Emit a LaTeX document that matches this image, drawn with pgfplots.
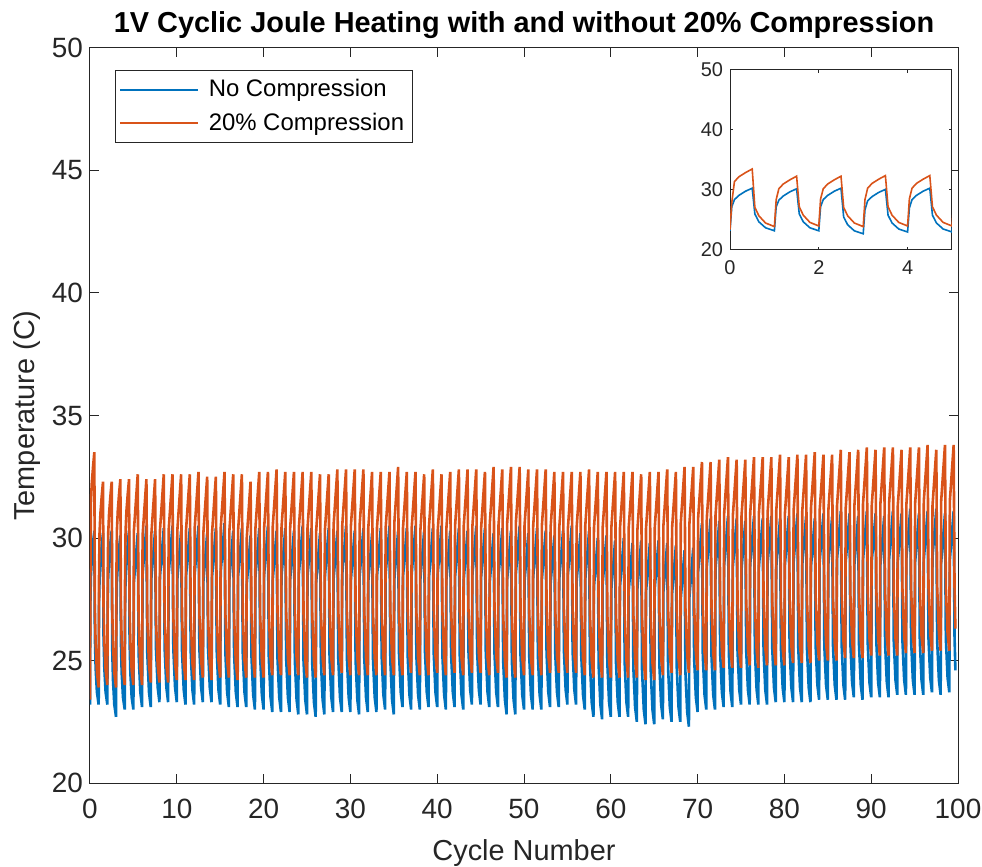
\documentclass[border=0pt]{standalone}
\usepackage{pgfplots}
\pgfplotsset{compat=1.18}
\usepackage{pgfplotstable}
\usepackage{fontspec}
\setmainfont{Liberation Sans}
\definecolor{mblue}{rgb}{0,0.447,0.741}
\definecolor{morange}{rgb}{0.85,0.325,0.098}
\definecolor{axgray}{rgb}{0.15,0.15,0.15}

\pgfplotstableread[row sep=\\]{
x y\\
0 23.2\\ 0.04 27.2\\ 0.1 28.4\\ 0.2 29.1\\ 0.35 29.8\\ 0.5 30.3\\ 0.56 26.0\\ 0.65 24.7\\ 0.8 23.7\\
1 23.2\\ 1.04 27.2\\ 1.1 28.3\\ 1.2 29.0\\ 1.35 29.7\\ 1.5 30.2\\ 1.56 26.0\\ 1.65 24.7\\ 1.8 23.7\\
2 23.2\\ 2.04 27.2\\ 2.1 28.4\\ 2.2 29.1\\ 2.35 29.8\\ 2.5 30.3\\ 2.56 25.5\\ 2.65 24.2\\ 2.8 23.2\\
3 22.7\\ 3.04 26.7\\ 3.1 28.2\\ 3.2 28.9\\ 3.35 29.6\\ 3.5 30.1\\ 3.56 25.8\\ 3.65 24.5\\ 3.8 23.5\\
4 23.0\\ 4.04 27.0\\ 4.1 28.4\\ 4.2 29.1\\ 4.35 29.8\\ 4.5 30.3\\ 4.56 25.8\\ 4.65 24.5\\ 4.8 23.5\\
5 23.0\\ 5.06 28.2\\ 5.5 30.2\\ 5.6 25.3\\ 5.8 23.7\\
6 23.1\\ 6.06 28.5\\ 6.5 30.5\\ 6.6 25.3\\ 6.8 23.7\\
7 23.1\\ 7.06 28.3\\ 7.5 30.3\\ 7.6 25.5\\ 7.8 23.9\\
8 23.3\\ 8.06 28.4\\ 8.5 30.4\\ 8.6 25.5\\ 8.8 23.9\\
9 23.3\\ 9.06 28.5\\ 9.5 30.5\\ 9.6 25.5\\ 9.8 23.9\\
10 23.3\\ 10.06 28.3\\ 10.5 30.3\\ 10.6 25.4\\ 10.8 23.8\\
11 23.2\\ 11.06 28.4\\ 11.5 30.4\\ 11.6 25.4\\ 11.8 23.8\\
12 23.2\\ 12.06 28.5\\ 12.5 30.5\\ 12.6 25.5\\ 12.8 23.9\\
13 23.3\\ 13.06 28.2\\ 13.5 30.2\\ 13.6 25.5\\ 13.8 23.9\\
14 23.3\\ 14.06 28.4\\ 14.5 30.4\\ 14.6 25.4\\ 14.8 23.8\\
15 23.2\\ 15.06 28.6\\ 15.5 30.6\\ 15.6 25.3\\ 15.8 23.7\\
16 23.1\\ 16.06 28.3\\ 16.5 30.3\\ 16.6 25.3\\ 16.8 23.7\\
17 23.1\\ 17.06 28.4\\ 17.5 30.4\\ 17.6 25.3\\ 17.8 23.7\\
18 23.1\\ 18.06 28.1\\ 18.5 30.1\\ 18.6 25.2\\ 18.8 23.6\\
19 23.0\\ 19.06 28.4\\ 19.5 30.4\\ 19.6 25.2\\ 19.8 23.6\\
20 23.0\\ 20.06 28.5\\ 20.5 30.5\\ 20.6 25.1\\ 20.8 23.5\\
21 22.9\\ 21.06 28.3\\ 21.5 30.3\\ 21.6 25.1\\ 21.8 23.5\\
22 22.9\\ 22.06 28.4\\ 22.5 30.4\\ 22.6 25.1\\ 22.8 23.5\\
23 22.9\\ 23.06 28.3\\ 23.5 30.3\\ 23.6 25.0\\ 23.8 23.4\\
24 22.8\\ 24.06 28.5\\ 24.5 30.5\\ 24.6 25.0\\ 24.8 23.4\\
25 22.8\\ 25.06 28.4\\ 25.5 30.4\\ 25.6 24.9\\ 25.8 23.3\\
26 22.7\\ 26.06 28.2\\ 26.5 30.2\\ 26.6 25.0\\ 26.8 23.4\\
27 22.8\\ 27.06 28.4\\ 27.5 30.4\\ 27.6 25.1\\ 27.8 23.5\\
28 22.9\\ 28.06 28.3\\ 28.5 30.3\\ 28.6 25.1\\ 28.8 23.5\\
29 22.9\\ 29.06 28.5\\ 29.5 30.5\\ 29.6 25.1\\ 29.8 23.5\\
30 22.9\\ 30.06 28.3\\ 30.5 30.3\\ 30.6 25.0\\ 30.8 23.4\\
31 22.8\\ 31.06 28.4\\ 31.5 30.4\\ 31.6 25.1\\ 31.8 23.5\\
32 22.9\\ 32.06 28.2\\ 32.5 30.2\\ 32.6 25.1\\ 32.8 23.5\\
33 22.9\\ 33.06 28.4\\ 33.5 30.4\\ 33.6 25.2\\ 33.8 23.6\\
34 23.0\\ 34.06 28.5\\ 34.5 30.5\\ 34.6 25.0\\ 34.8 23.4\\
35 22.8\\ 35.06 28.3\\ 35.5 30.3\\ 35.6 25.3\\ 35.8 23.7\\
36 23.1\\ 36.06 28.4\\ 36.5 30.4\\ 36.6 25.2\\ 36.8 23.6\\
37 23.0\\ 37.06 28.5\\ 37.5 30.5\\ 37.6 25.2\\ 37.8 23.6\\
38 23.0\\ 38.06 28.3\\ 38.5 30.3\\ 38.6 25.3\\ 38.8 23.7\\
39 23.1\\ 39.06 28.4\\ 39.5 30.4\\ 39.6 25.3\\ 39.8 23.7\\
40 23.1\\ 40.06 28.5\\ 40.5 30.5\\ 40.6 25.2\\ 40.8 23.6\\
41 23.0\\ 41.06 28.3\\ 41.5 30.3\\ 41.6 25.3\\ 41.8 23.7\\
42 23.1\\ 42.06 28.4\\ 42.5 30.4\\ 42.6 25.2\\ 42.8 23.6\\
43 23.0\\ 43.06 28.3\\ 43.5 30.3\\ 43.6 25.4\\ 43.8 23.8\\
44 23.2\\ 44.06 28.5\\ 44.5 30.5\\ 44.6 25.4\\ 44.8 23.8\\
45 23.2\\ 45.06 28.4\\ 45.5 30.4\\ 45.6 25.3\\ 45.8 23.7\\
46 23.1\\ 46.06 28.2\\ 46.5 30.2\\ 46.6 25.3\\ 46.8 23.7\\
47 23.1\\ 47.06 28.4\\ 47.5 30.4\\ 47.6 25.0\\ 47.8 23.4\\
48 22.8\\ 48.06 28.3\\ 48.5 30.3\\ 48.6 25.0\\ 48.8 23.4\\
49 22.8\\ 49.06 28.5\\ 49.5 30.5\\ 49.6 25.2\\ 49.8 23.6\\
50 23.0\\ 50.06 28.2\\ 50.5 30.2\\ 50.6 25.2\\ 50.8 23.6\\
51 23.0\\ 51.06 28.4\\ 51.5 30.4\\ 51.6 25.2\\ 51.8 23.6\\
52 23.0\\ 52.06 28.3\\ 52.5 30.3\\ 52.6 25.3\\ 52.8 23.7\\
53 23.1\\ 53.06 28.1\\ 53.5 30.1\\ 53.6 25.3\\ 53.8 23.7\\
54 23.1\\ 54.06 28.3\\ 54.5 30.3\\ 54.6 25.4\\ 54.8 23.8\\
55 23.2\\ 55.06 28.5\\ 55.5 30.5\\ 55.6 25.4\\ 55.8 23.8\\
56 23.2\\ 56.06 28.2\\ 56.5 30.2\\ 56.6 25.2\\ 56.8 23.6\\
57 23.0\\ 57.06 28.3\\ 57.5 30.3\\ 57.6 24.9\\ 57.8 23.3\\
58 22.7\\ 58.06 28.0\\ 58.5 30.0\\ 58.6 24.8\\ 58.8 23.2\\
59 22.6\\ 59.06 28.1\\ 59.5 30.1\\ 59.6 24.9\\ 59.8 23.3\\
60 22.7\\ 60.06 27.9\\ 60.5 29.9\\ 60.6 24.9\\ 60.8 23.3\\
61 22.7\\ 61.06 28.0\\ 61.5 30.0\\ 61.6 24.9\\ 61.8 23.3\\
62 22.7\\ 62.06 27.8\\ 62.5 29.8\\ 62.6 24.7\\ 62.8 23.1\\
63 22.5\\ 63.06 27.9\\ 63.5 29.9\\ 63.6 24.6\\ 63.8 23.0\\
64 22.4\\ 64.06 27.8\\ 64.5 29.8\\ 64.6 24.6\\ 64.8 23.0\\
65 22.4\\ 65.06 27.9\\ 65.5 29.9\\ 65.6 24.8\\ 65.8 23.2\\
66 22.6\\ 66.06 27.8\\ 66.5 29.8\\ 66.6 24.7\\ 66.8 23.1\\
67 22.5\\ 67.06 27.7\\ 67.5 29.7\\ 67.6 24.7\\ 67.8 23.1\\
68 22.5\\ 68.06 27.5\\ 68.5 29.5\\ 68.6 24.5\\ 68.8 22.9\\
69 22.3\\ 69.06 27.6\\ 69.5 29.6\\ 69.6 25.1\\ 69.8 23.5\\
70 22.9\\ 70.06 28.6\\ 70.5 30.6\\ 70.6 25.2\\ 70.8 23.6\\
71 23.0\\ 71.06 28.8\\ 71.5 30.8\\ 71.6 25.2\\ 71.8 23.6\\
72 23.0\\ 72.06 28.7\\ 72.5 30.7\\ 72.6 25.3\\ 72.8 23.7\\
73 23.1\\ 73.06 28.9\\ 73.5 30.9\\ 73.6 25.3\\ 73.8 23.7\\
74 23.1\\ 74.06 28.8\\ 74.5 30.8\\ 74.6 25.4\\ 74.8 23.8\\
75 23.2\\ 75.06 28.7\\ 75.5 30.7\\ 75.6 25.4\\ 75.8 23.8\\
76 23.2\\ 76.06 28.9\\ 76.5 30.9\\ 76.6 25.4\\ 76.8 23.8\\
77 23.2\\ 77.06 28.8\\ 77.5 30.8\\ 77.6 25.4\\ 77.8 23.8\\
78 23.2\\ 78.06 28.9\\ 78.5 30.9\\ 78.6 25.5\\ 78.8 23.9\\
79 23.3\\ 79.06 28.8\\ 79.5 30.8\\ 79.6 25.5\\ 79.8 23.9\\
80 23.3\\ 80.06 28.9\\ 80.5 30.9\\ 80.6 25.5\\ 80.8 23.9\\
81 23.3\\ 81.06 29.0\\ 81.5 31.0\\ 81.6 25.5\\ 81.8 23.9\\
82 23.3\\ 82.06 28.9\\ 82.5 30.9\\ 82.6 25.5\\ 82.8 23.9\\
83 23.3\\ 83.06 28.8\\ 83.5 30.8\\ 83.6 25.6\\ 83.8 24.0\\
84 23.4\\ 84.06 29.0\\ 84.5 31.0\\ 84.6 25.6\\ 84.8 24.0\\
85 23.4\\ 85.06 28.9\\ 85.5 30.9\\ 85.6 25.6\\ 85.8 24.0\\
86 23.4\\ 86.06 29.1\\ 86.5 31.1\\ 86.6 25.6\\ 86.8 24.0\\
87 23.4\\ 87.06 29.0\\ 87.5 31.0\\ 87.6 25.7\\ 87.8 24.1\\
88 23.5\\ 88.06 28.9\\ 88.5 30.9\\ 88.6 25.6\\ 88.8 24.0\\
89 23.4\\ 89.06 29.1\\ 89.5 31.1\\ 89.6 25.7\\ 89.8 24.1\\
90 23.5\\ 90.06 29.0\\ 90.5 31.0\\ 90.6 25.7\\ 90.8 24.1\\
91 23.5\\ 91.06 28.9\\ 91.5 30.9\\ 91.6 25.7\\ 91.8 24.1\\
92 23.5\\ 92.06 29.1\\ 92.5 31.1\\ 92.6 25.8\\ 92.8 24.2\\
93 23.6\\ 93.06 29.0\\ 93.5 31.0\\ 93.6 25.8\\ 93.8 24.2\\
94 23.6\\ 94.06 29.2\\ 94.5 31.2\\ 94.6 25.8\\ 94.8 24.2\\
95 23.6\\ 95.06 29.0\\ 95.5 31.0\\ 95.6 25.8\\ 95.8 24.2\\
96 23.6\\ 96.06 29.1\\ 96.5 31.1\\ 96.6 25.9\\ 96.8 24.3\\
97 23.7\\ 97.06 29.2\\ 97.5 31.2\\ 97.6 25.8\\ 97.8 24.2\\
98 23.6\\ 98.06 29.0\\ 98.5 31.0\\ 98.6 25.9\\ 98.8 24.3\\
99 23.7\\ 99.06 29.1\\ 99.5 31.1\\ 99.6 26.0\\ 99.7 24.6\\
}\bluetab

\pgfplotstableread[row sep=\\]{
x y\\
0 23.4\\ 0.04 27.9\\ 0.1 31.4\\ 0.2 32.2\\ 0.35 32.9\\ 0.5 33.5\\ 0.56 27.1\\ 0.65 25.7\\ 0.8 24.5\\
1 23.9\\ 1.04 28.4\\ 1.1 30.2\\ 1.2 31.0\\ 1.35 31.7\\ 1.5 32.3\\ 1.56 27.2\\ 1.65 25.8\\ 1.8 24.6\\
2 24.0\\ 2.04 28.5\\ 2.1 30.2\\ 2.2 31.0\\ 2.35 31.7\\ 2.5 32.3\\ 2.56 27.1\\ 2.65 25.7\\ 2.8 24.5\\
3 23.9\\ 3.04 28.4\\ 3.1 30.3\\ 3.2 31.1\\ 3.35 31.8\\ 3.5 32.4\\ 3.56 27.2\\ 3.65 25.8\\ 3.8 24.6\\
4 24.0\\ 4.04 28.5\\ 4.1 30.3\\ 4.2 31.1\\ 4.35 31.8\\ 4.5 32.4\\ 4.56 27.2\\ 4.65 25.8\\ 4.8 24.6\\
5 24.0\\ 5.06 30.3\\ 5.5 32.6\\ 5.6 26.6\\ 5.8 24.7\\
6 24.0\\ 6.06 30.1\\ 6.5 32.4\\ 6.6 26.7\\ 6.8 24.8\\
7 24.1\\ 7.06 30.1\\ 7.5 32.4\\ 7.6 26.7\\ 7.8 24.8\\
8 24.1\\ 8.06 30.3\\ 8.5 32.6\\ 8.6 26.7\\ 8.8 24.8\\
9 24.1\\ 9.06 30.3\\ 9.5 32.6\\ 9.6 26.8\\ 9.8 24.9\\
10 24.2\\ 10.06 30.3\\ 10.5 32.6\\ 10.6 26.8\\ 10.8 24.9\\
11 24.2\\ 11.06 30.3\\ 11.5 32.6\\ 11.6 26.8\\ 11.8 24.9\\
12 24.2\\ 12.06 30.4\\ 12.5 32.7\\ 12.6 26.9\\ 12.8 25.0\\
13 24.3\\ 13.06 30.2\\ 13.5 32.5\\ 13.6 26.8\\ 13.8 24.9\\
14 24.2\\ 14.06 30.2\\ 14.5 32.5\\ 14.6 26.9\\ 14.8 25.0\\
15 24.3\\ 15.06 30.4\\ 15.5 32.7\\ 15.6 26.9\\ 15.8 25.0\\
16 24.3\\ 16.06 30.3\\ 16.5 32.6\\ 16.6 26.8\\ 16.8 24.9\\
17 24.2\\ 17.06 30.3\\ 17.5 32.6\\ 17.6 26.9\\ 17.8 25.0\\
18 24.3\\ 18.06 30.0\\ 18.5 32.3\\ 18.6 26.9\\ 18.8 25.0\\
19 24.3\\ 19.06 30.4\\ 19.5 32.7\\ 19.6 26.9\\ 19.8 25.0\\
20 24.3\\ 20.06 30.4\\ 20.5 32.7\\ 20.6 27.0\\ 20.8 25.1\\
21 24.4\\ 21.06 30.5\\ 21.5 32.8\\ 21.6 27.0\\ 21.8 25.1\\
22 24.4\\ 22.06 30.4\\ 22.5 32.7\\ 22.6 27.0\\ 22.8 25.1\\
23 24.4\\ 23.06 30.4\\ 23.5 32.7\\ 23.6 27.0\\ 23.8 25.1\\
24 24.4\\ 24.06 30.4\\ 24.5 32.7\\ 24.6 26.9\\ 24.8 25.0\\
25 24.3\\ 25.06 30.4\\ 25.5 32.7\\ 25.6 26.9\\ 25.8 25.0\\
26 24.3\\ 26.06 30.3\\ 26.5 32.6\\ 26.6 27.0\\ 26.8 25.1\\
27 24.4\\ 27.06 30.3\\ 27.5 32.6\\ 27.6 27.0\\ 27.8 25.1\\
28 24.4\\ 28.06 30.5\\ 28.5 32.8\\ 28.6 27.1\\ 28.8 25.2\\
29 24.5\\ 29.06 30.5\\ 29.5 32.8\\ 29.6 27.0\\ 29.8 25.1\\
30 24.4\\ 30.06 30.5\\ 30.5 32.8\\ 30.6 27.0\\ 30.8 25.1\\
31 24.4\\ 31.06 30.5\\ 31.5 32.8\\ 31.6 27.0\\ 31.8 25.1\\
32 24.4\\ 32.06 30.4\\ 32.5 32.7\\ 32.6 27.0\\ 32.8 25.1\\
33 24.4\\ 33.06 30.4\\ 33.5 32.7\\ 33.6 27.0\\ 33.8 25.1\\
34 24.4\\ 34.06 30.4\\ 34.5 32.7\\ 34.6 27.0\\ 34.8 25.1\\
35 24.4\\ 35.06 30.6\\ 35.5 32.9\\ 35.6 27.0\\ 35.8 25.1\\
36 24.4\\ 36.06 30.4\\ 36.5 32.7\\ 36.6 27.1\\ 36.8 25.2\\
37 24.5\\ 37.06 30.4\\ 37.5 32.7\\ 37.6 27.0\\ 37.8 25.1\\
38 24.4\\ 38.06 30.3\\ 38.5 32.6\\ 38.6 27.0\\ 38.8 25.1\\
39 24.4\\ 39.06 30.5\\ 39.5 32.8\\ 39.6 27.1\\ 39.8 25.2\\
40 24.5\\ 40.06 30.3\\ 40.5 32.6\\ 40.6 27.0\\ 40.8 25.1\\
41 24.4\\ 41.06 30.4\\ 41.5 32.7\\ 41.6 27.1\\ 41.8 25.2\\
42 24.5\\ 42.06 30.5\\ 42.5 32.8\\ 42.6 27.0\\ 42.8 25.1\\
43 24.4\\ 43.06 30.5\\ 43.5 32.8\\ 43.6 27.1\\ 43.8 25.2\\
44 24.5\\ 44.06 30.5\\ 44.5 32.8\\ 44.6 27.1\\ 44.8 25.2\\
45 24.5\\ 45.06 30.4\\ 45.5 32.7\\ 45.6 27.0\\ 45.8 25.1\\
46 24.4\\ 46.06 30.6\\ 46.5 32.9\\ 46.6 27.1\\ 46.8 25.2\\
47 24.5\\ 47.06 30.5\\ 47.5 32.8\\ 47.6 26.9\\ 47.8 25.0\\
48 24.3\\ 48.06 30.6\\ 48.5 32.9\\ 48.6 26.9\\ 48.8 25.0\\
49 24.3\\ 49.06 30.6\\ 49.5 32.9\\ 49.6 27.0\\ 49.8 25.1\\
50 24.4\\ 50.06 30.5\\ 50.5 32.8\\ 50.6 27.0\\ 50.8 25.1\\
51 24.4\\ 51.06 30.5\\ 51.5 32.8\\ 51.6 27.0\\ 51.8 25.1\\
52 24.4\\ 52.06 30.5\\ 52.5 32.8\\ 52.6 27.1\\ 52.8 25.2\\
53 24.5\\ 53.06 30.4\\ 53.5 32.7\\ 53.6 27.1\\ 53.8 25.2\\
54 24.5\\ 54.06 30.4\\ 54.5 32.7\\ 54.6 27.1\\ 54.8 25.2\\
55 24.5\\ 55.06 30.4\\ 55.5 32.7\\ 55.6 27.1\\ 55.8 25.2\\
56 24.5\\ 56.06 30.4\\ 56.5 32.7\\ 56.6 27.0\\ 56.8 25.1\\
57 24.4\\ 57.06 30.5\\ 57.5 32.8\\ 57.6 26.9\\ 57.8 25.0\\
58 24.3\\ 58.06 30.4\\ 58.5 32.7\\ 58.6 26.9\\ 58.8 25.0\\
59 24.3\\ 59.06 30.4\\ 59.5 32.7\\ 59.6 26.9\\ 59.8 25.0\\
60 24.3\\ 60.06 30.4\\ 60.5 32.7\\ 60.6 26.9\\ 60.8 25.0\\
61 24.3\\ 61.06 30.4\\ 61.5 32.7\\ 61.6 26.9\\ 61.8 25.0\\
62 24.3\\ 62.06 30.4\\ 62.5 32.7\\ 62.6 26.9\\ 62.8 25.0\\
63 24.3\\ 63.06 30.3\\ 63.5 32.6\\ 63.6 26.8\\ 63.8 24.9\\
64 24.2\\ 64.06 30.4\\ 64.5 32.7\\ 64.6 26.8\\ 64.8 24.9\\
65 24.2\\ 65.06 30.4\\ 65.5 32.7\\ 65.6 27.0\\ 65.8 25.1\\
66 24.4\\ 66.06 30.5\\ 66.5 32.8\\ 66.6 27.1\\ 66.8 25.2\\
67 24.5\\ 67.06 30.4\\ 67.5 32.7\\ 67.6 27.0\\ 67.8 25.1\\
68 24.4\\ 68.06 30.6\\ 68.5 32.9\\ 68.6 27.1\\ 68.8 25.2\\
69 24.5\\ 69.06 30.6\\ 69.5 32.9\\ 69.6 27.2\\ 69.8 25.3\\
70 24.6\\ 70.06 30.8\\ 70.5 33.1\\ 70.6 27.2\\ 70.8 25.3\\
71 24.6\\ 71.06 30.8\\ 71.5 33.1\\ 71.6 27.2\\ 71.8 25.3\\
72 24.6\\ 72.06 30.9\\ 72.5 33.2\\ 72.6 27.3\\ 72.8 25.4\\
73 24.7\\ 73.06 31.0\\ 73.5 33.3\\ 73.6 27.3\\ 73.8 25.4\\
74 24.7\\ 74.06 30.9\\ 74.5 33.2\\ 74.6 27.3\\ 74.8 25.4\\
75 24.7\\ 75.06 30.9\\ 75.5 33.2\\ 75.6 27.4\\ 75.8 25.5\\
76 24.8\\ 76.06 31.0\\ 76.5 33.3\\ 76.6 27.3\\ 76.8 25.4\\
77 24.7\\ 77.06 31.0\\ 77.5 33.3\\ 77.6 27.4\\ 77.8 25.5\\
78 24.8\\ 78.06 31.0\\ 78.5 33.3\\ 78.6 27.4\\ 78.8 25.5\\
79 24.8\\ 79.06 31.1\\ 79.5 33.4\\ 79.6 27.4\\ 79.8 25.5\\
80 24.8\\ 80.06 31.0\\ 80.5 33.3\\ 80.6 27.5\\ 80.8 25.6\\
81 24.9\\ 81.06 31.1\\ 81.5 33.4\\ 81.6 27.5\\ 81.8 25.6\\
82 24.9\\ 82.06 31.1\\ 82.5 33.4\\ 82.6 27.5\\ 82.8 25.6\\
83 24.9\\ 83.06 31.2\\ 83.5 33.5\\ 83.6 27.6\\ 83.8 25.7\\
84 25.0\\ 84.06 31.1\\ 84.5 33.4\\ 84.6 27.6\\ 84.8 25.7\\
85 25.0\\ 85.06 31.1\\ 85.5 33.4\\ 85.6 27.6\\ 85.8 25.7\\
86 25.0\\ 86.06 31.3\\ 86.5 33.6\\ 86.6 27.7\\ 86.8 25.8\\
87 25.1\\ 87.06 31.2\\ 87.5 33.5\\ 87.6 27.7\\ 87.8 25.8\\
88 25.1\\ 88.06 31.3\\ 88.5 33.6\\ 88.6 27.7\\ 88.8 25.8\\
89 25.1\\ 89.06 31.4\\ 89.5 33.7\\ 89.6 27.8\\ 89.8 25.9\\
90 25.2\\ 90.06 31.3\\ 90.5 33.6\\ 90.6 27.8\\ 90.8 25.9\\
91 25.2\\ 91.06 31.4\\ 91.5 33.7\\ 91.6 27.8\\ 91.8 25.9\\
92 25.2\\ 92.06 31.4\\ 92.5 33.7\\ 92.6 27.8\\ 92.8 25.9\\
93 25.2\\ 93.06 31.3\\ 93.5 33.6\\ 93.6 27.9\\ 93.8 26.0\\
94 25.3\\ 94.06 31.4\\ 94.5 33.7\\ 94.6 27.9\\ 94.8 26.0\\
95 25.3\\ 95.06 31.4\\ 95.5 33.7\\ 95.6 27.9\\ 95.8 26.0\\
96 25.3\\ 96.06 31.5\\ 96.5 33.8\\ 96.6 28.0\\ 96.8 26.1\\
97 25.4\\ 97.06 31.3\\ 97.5 33.6\\ 97.6 28.0\\ 97.8 26.1\\
98 25.4\\ 98.06 31.5\\ 98.5 33.8\\ 98.6 28.0\\ 98.8 26.1\\
99 25.4\\ 99.06 31.5\\ 99.5 33.8\\ 99.6 28.0\\ 99.7 26.3\\
}\orangetab

\begin{document}
\begin{tikzpicture}
\path[use as bounding box] (-45bp,-42bp) rectangle (446bp,391.5bp);
\begin{axis}[
  at={(0,0)}, anchor=south west,
  scale only axis, width=434bp, height=367.5bp,
  xmin=0, xmax=100, ymin=20, ymax=50,
  xtick={0,10,...,100}, ytick={20,25,...,50},
  tick align=inside, tick pos=both,
  major tick length=4.5bp,
  axis line style={draw=axgray, line width=0.5bp},
  every tick/.style={draw=axgray, line width=0.5bp},
  /pgf/number format/assume math mode=true,
  tick label style={font=\fontsize{14}{16}\selectfont, text=axgray},
  xticklabel style={yshift=-4.5bp},
  every axis title shift=0pt,
  title={1V Cyclic Joule Heating with and without 20\% Compression},
  title style={font=\bfseries\fontsize{14.5}{17}\selectfont, at={(axis description cs:0.5,1)}, anchor=base, yshift=7.5bp},
  xlabel={Cycle Number},
  xlabel style={font=\fontsize{14.5}{17}\selectfont, text=axgray, at={(axis description cs:0.5,0)}, anchor=base, yshift=-38.5bp},
  ylabel={Temperature (C)},
  ylabel style={font=\fontsize{14.5}{17}\selectfont, text=axgray, at={(axis description cs:0,0.5)}, anchor=base, yshift=27.5bp},
  legend style={at={(0.0288,0.970)}, anchor=north west, draw=axgray, line width=0.5bp, fill=white,
    font=\fontsize{12}{14}\selectfont, text=black, inner xsep=2bp, inner ysep=2.5bp,
    row sep=2.5bp, cells={anchor=west}},
  legend image code/.code={\draw[#1, line width=1bp] (0bp,0bp) -- (39bp,0bp); \path (41.5bp,0bp);},
]
\addplot[mblue, line width=1.3bp] table {\bluetab};
\addplot[morange, line width=1.3bp] table {\orangetab};
\legend{No Compression, 20\% Compression}
\end{axis}
\begin{axis}[
  at={(320bp,266.5bp)}, anchor=south west,
  scale only axis, width=111bp, height=90bp,
  xmin=0, xmax=5, ymin=20, ymax=50,
  xtick={0,2,4}, ytick={20,30,40,50},
  tick align=inside, tick pos=both,
  major tick length=1.5bp,
  axis background/.style={fill=white},
  axis line style={draw=axgray, line width=0.5bp},
  every tick/.style={draw=axgray, line width=0.5bp},
  /pgf/number format/assume math mode=true,
  tick label style={font=\fontsize{10}{12}\selectfont, text=axgray},
  xticklabel style={yshift=-2bp},
]
\addplot[mblue, line width=0.8bp] table {\bluetab};
\addplot[morange, line width=0.8bp] table {\orangetab};
\end{axis}
\end{tikzpicture}
\end{document}
